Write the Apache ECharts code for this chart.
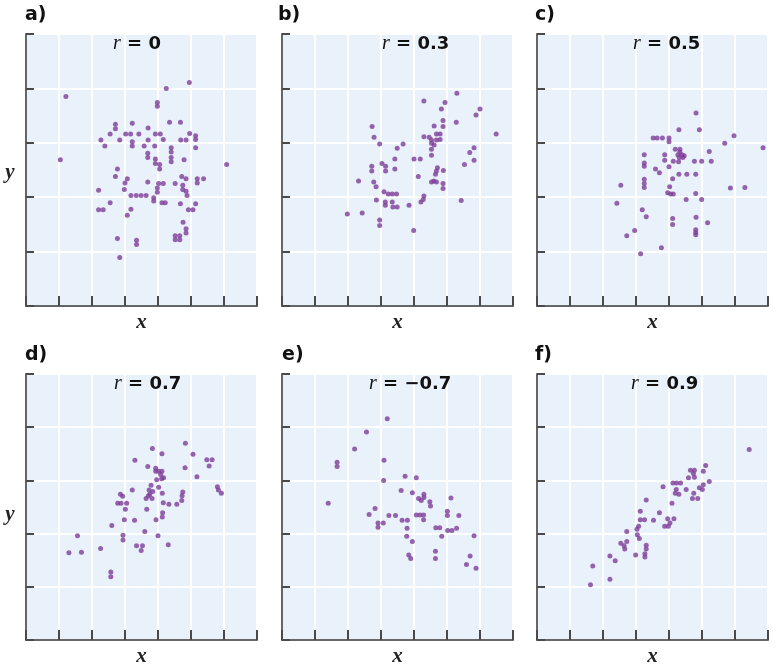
<!DOCTYPE html>
<html><head><meta charset="utf-8">
<script src="https://cdn.jsdelivr.net/npm/echarts@6/dist/echarts.min.js"></script>
<style>html,body{margin:0;padding:0;background:#fff}#c{width:777px;height:668px}</style>
</head><body><div id="c"></div>
<script>
const panelLabels = ['a)', 'b)', 'c)', 'd)', 'e)', 'f)'];
const rValues = ['0', '0.3', '0.5', '0.7', '\u22120.7', '0.9'];
const xAxisName = 'x';
const yAxisName = 'y';

const dataA = [[4.95,4.11],[4.25,4.00],[1.21,3.85],[3.98,3.74],[3.98,3.67],[4.35,3.38],[4.68,3.38],[2.71,3.34],[2.71,3.26],[3.22,3.36],[3.70,3.27],[2.55,3.16],[3.02,3.16],[3.17,3.16],[3.42,3.16],[3.92,3.16],[4.07,3.16],[4.96,3.17],[5.14,3.13],[5.14,3.06],[2.27,3.05],[2.84,3.05],[3.22,3.02],[3.22,2.94],[3.70,3.05],[4.16,3.06],[4.69,3.05],[4.85,3.05],[2.39,2.94],[3.58,2.94],[3.90,2.94],[5.14,2.91],[4.40,2.91],[4.40,2.83],[4.40,2.73],[4.40,2.65],[3.69,2.81],[3.69,2.73],[3.92,2.70],[3.92,2.62],[4.05,2.60],[4.05,2.52],[4.79,2.69],[1.04,2.69],[6.08,2.60],[2.77,2.52],[2.71,2.38],[3.07,2.34],[3.00,2.26],[3.69,2.28],[4.02,2.25],[4.16,2.25],[4.52,2.25],[4.72,2.38],[4.85,2.34],[5.19,2.34],[5.38,2.34],[5.19,2.26],[4.75,2.22],[4.75,2.14],[3.98,2.17],[3.98,2.09],[2.98,2.14],[2.20,2.13],[4.85,2.11],[4.88,2.03],[3.18,2.03],[3.34,2.03],[3.49,2.03],[3.64,2.03],[3.87,1.99],[3.87,1.93],[4.12,1.90],[4.22,1.90],[4.68,1.88],[5.14,1.88],[2.55,1.90],[2.20,1.77],[2.34,1.77],[3.18,1.78],[4.92,1.77],[5.06,1.77],[3.07,1.67],[4.76,1.54],[4.85,1.42],[4.85,1.34],[4.52,1.29],[4.66,1.29],[4.52,1.22],[4.66,1.22],[2.77,1.24],[3.35,1.21],[3.35,1.13],[2.84,0.89]];

const dataB = [[5.30,3.91],[4.30,3.77],[4.94,3.74],[6.00,3.62],[5.88,3.51],[4.83,3.62],[4.88,3.41],[4.88,3.30],[5.28,3.38],[2.73,3.30],[4.61,3.31],[6.49,3.16],[4.68,3.16],[4.79,3.16],[4.30,3.11],[4.46,3.10],[2.79,3.10],[4.53,3.05],[4.68,3.05],[4.79,3.06],[2.96,2.98],[3.67,2.98],[3.49,2.90],[4.53,2.99],[4.61,2.96],[4.53,2.88],[4.53,2.77],[5.82,2.91],[5.69,2.82],[5.82,2.68],[3.42,2.70],[4.00,2.70],[4.19,2.70],[3.03,2.62],[3.14,2.57],[3.14,2.48],[2.72,2.57],[2.72,2.48],[3.42,2.52],[5.53,2.60],[4.71,2.54],[4.68,2.48],[4.65,2.42],[4.60,2.30],[4.68,2.28],[4.89,2.49],[4.13,2.38],[4.53,2.28],[2.32,2.30],[2.78,2.28],[2.85,2.19],[4.88,2.25],[4.88,2.16],[3.09,2.10],[3.22,2.06],[3.34,2.06],[3.47,2.06],[4.30,2.02],[4.28,1.96],[4.21,1.91],[2.86,1.95],[5.43,1.94],[3.13,1.91],[3.13,1.85],[3.34,1.91],[3.36,1.82],[3.49,1.82],[3.85,1.85],[1.98,1.69],[2.43,1.71],[2.96,1.58],[2.96,1.48],[3.99,1.39]];

const dataC = [[4.82,3.55],[4.30,3.24],[4.92,3.24],[5.97,3.13],[3.52,3.09],[3.64,3.09],[3.80,3.09],[4.00,3.09],[4.00,3.02],[5.69,2.99],[6.85,2.91],[4.19,2.88],[4.33,2.88],[4.33,2.83],[5.22,2.84],[3.25,2.78],[3.87,2.78],[4.27,2.78],[4.39,2.78],[4.46,2.76],[4.31,2.73],[4.42,2.73],[3.87,2.68],[4.13,2.66],[4.29,2.65],[4.77,2.66],[4.99,2.66],[5.28,2.66],[3.25,2.63],[3.25,2.57],[4.00,2.56],[3.59,2.52],[3.71,2.45],[4.30,2.42],[4.54,2.42],[4.81,2.42],[4.11,2.34],[3.25,2.33],[3.25,2.25],[3.25,2.18],[2.54,2.22],[4.02,2.19],[5.86,2.17],[6.30,2.18],[3.96,2.08],[4.05,2.06],[4.13,2.06],[4.81,2.07],[4.52,1.96],[4.99,1.96],[2.42,1.89],[3.19,1.77],[3.31,1.64],[4.11,1.61],[4.11,1.50],[4.82,1.63],[5.17,1.53],[4.81,1.40],[4.81,1.35],[4.81,1.31],[2.96,1.39],[2.72,1.29],[3.77,1.07],[3.14,0.96]];

const dataD = [[4.83,3.70],[3.83,3.60],[4.12,3.50],[5.06,3.49],[3.30,3.38],[5.48,3.39],[5.64,3.39],[5.55,3.27],[3.69,3.26],[4.82,3.24],[3.93,3.23],[3.93,3.17],[4.02,3.17],[4.12,3.17],[4.08,3.11],[4.17,3.05],[4.11,3.03],[5.18,3.07],[3.96,3.01],[3.79,2.91],[4.02,2.87],[5.80,2.88],[5.83,2.82],[5.92,2.76],[3.22,2.82],[3.73,2.82],[3.84,2.79],[3.75,2.74],[3.82,2.66],[3.64,2.66],[3.71,2.71],[4.13,2.76],[4.75,2.78],[4.73,2.71],[4.72,2.62],[2.86,2.74],[2.93,2.70],[2.78,2.57],[2.88,2.57],[3.05,2.57],[3.01,2.46],[4.16,2.58],[4.33,2.55],[4.57,2.55],[3.66,2.46],[4.14,2.39],[4.13,2.31],[2.98,2.26],[3.29,2.25],[3.94,2.26],[2.60,2.15],[3.60,2.04],[1.56,1.96],[2.94,1.97],[2.94,1.88],[4.00,1.96],[4.31,1.79],[3.35,1.77],[3.53,1.77],[3.49,1.68],[2.26,1.72],[1.30,1.64],[1.68,1.65],[2.57,1.28],[2.57,1.19]];

const dataE = [[3.19,4.16],[2.56,3.91],[2.20,3.59],[3.09,3.38],[1.67,3.34],[1.67,3.26],[3.73,3.08],[4.07,3.05],[3.08,3.00],[3.61,2.81],[3.95,2.77],[4.30,2.74],[4.30,2.68],[4.14,2.66],[4.22,2.62],[4.48,2.60],[4.50,2.52],[5.12,2.67],[1.40,2.57],[2.82,2.47],[5.01,2.42],[5.01,2.34],[2.64,2.36],[3.24,2.34],[3.44,2.34],[4.07,2.35],[4.18,2.35],[4.29,2.35],[4.29,2.26],[5.36,2.34],[3.64,2.25],[3.80,2.25],[2.91,2.20],[2.91,2.12],[3.07,2.20],[3.79,2.10],[4.66,2.11],[4.78,2.11],[5.02,2.06],[5.15,2.06],[5.29,2.10],[4.84,1.95],[5.82,1.96],[3.78,1.95],[3.95,1.85],[4.65,1.67],[4.65,1.53],[3.84,1.60],[3.90,1.53],[5.70,1.58],[5.59,1.42],[5.88,1.35]];

const dataF = [[6.43,3.58],[5.11,3.28],[4.65,3.19],[4.77,3.19],[4.74,3.13],[4.77,3.06],[4.59,3.05],[5.04,3.17],[4.12,2.95],[4.23,2.95],[4.35,2.95],[5.22,2.98],[5.04,2.92],[4.92,2.86],[5.01,2.83],[3.82,2.88],[4.22,2.83],[4.19,2.76],[4.30,2.74],[4.52,2.83],[4.75,2.76],[4.71,2.66],[4.87,2.66],[3.31,2.63],[4.09,2.57],[3.13,2.42],[3.71,2.39],[3.13,2.26],[3.26,2.26],[3.53,2.25],[3.96,2.28],[4.15,2.28],[3.87,2.14],[3.98,2.14],[4.03,2.20],[3.08,2.14],[3.03,2.08],[2.72,2.04],[3.04,1.98],[3.10,1.91],[2.54,1.82],[2.72,1.85],[2.64,1.77],[2.66,1.71],[3.31,1.78],[3.31,1.71],[3.27,1.62],[3.27,1.56],[2.99,1.60],[2.21,1.58],[2.37,1.49],[1.69,1.39],[2.21,1.14],[1.62,1.04]];

const panels = [dataA, dataB, dataC, dataD, dataE, dataF];

const gridLefts = [26, 282, 537, 26, 282, 537];
const gridTops = [34, 34, 34, 374, 374, 374];
const labelLefts = [25, 278, 535, 25, 282, 535];
const labelTops = [15, 15, 15, 355, 355, 355];
const rLefts = [113, 382, 633, 114, 369, 631];
const rTops = [44, 44, 44, 384, 384, 384];

const grids = [], xAxes = [], yAxes = [], series = [], titles = [];
const axisLineStyle = {color: '#666', width: 2};
const tickStyle = {color: '#4a4a4a', width: 2};
const nameStyle = {fontFamily: 'Liberation Serif', fontStyle: 'italic', fontWeight: 'bold', fontSize: 21, color: '#222'};

panels.forEach(function (d, i) {
  grids.push({left: gridLefts[i], top: gridTops[i], width: 231, height: 272, show: true, backgroundColor: '#e9f1fb', borderWidth: 0});
  xAxes.push({
    gridIndex: i, type: 'value', min: 0, max: 7, interval: 1,
    axisLine: {show: true, onZero: false, lineStyle: axisLineStyle},
    axisTick: {show: true, inside: true, length: 10, lineStyle: tickStyle},
    axisLabel: {show: false},
    splitLine: {show: true, lineStyle: {color: '#ffffff', width: 2}},
    name: xAxisName, nameLocation: 'middle', nameGap: 6, nameTextStyle: nameStyle
  });
  yAxes.push({
    gridIndex: i, type: 'value', min: 0, max: 5, interval: 1,
    axisLine: {show: true, onZero: false, lineStyle: axisLineStyle},
    axisTick: {show: true, inside: true, length: 8, lineStyle: tickStyle},
    axisLabel: {show: false},
    splitLine: {show: true, lineStyle: {color: '#ffffff', width: 2}}
  });
  series.push({
    type: 'scatter', xAxisIndex: i, yAxisIndex: i, data: d,
    symbol: 'circle', symbolSize: 5,
    itemStyle: {color: '#7e3f99'}, silent: true
  });
  titles.push({
    text: panelLabels[i], left: labelLefts[i], top: labelTops[i], padding: 0,
    textAlign: 'left', textVerticalAlign: 'middle',
    textStyle: {fontFamily: 'DejaVu Sans', fontWeight: 'bold', fontSize: 19, color: '#111'}
  });
  titles.push({
    text: '{r|r} = ' + rValues[i], left: rLefts[i], top: rTops[i], padding: 0,
    textAlign: 'left', textVerticalAlign: 'middle',
    textStyle: {fontFamily: 'DejaVu Sans', fontWeight: 'bold', fontSize: 18, color: '#111',
      rich: {r: {fontFamily: 'Liberation Serif', fontStyle: 'italic', fontWeight: 'normal', fontSize: 20, color: '#111'}}}
  });
});
[173, 515].forEach(function (t) {
  titles.push({
    text: yAxisName, left: 10, top: t, padding: 0, textAlign: 'center', textVerticalAlign: 'middle',
    textStyle: nameStyle
  });
});

const chart = echarts.init(document.getElementById('c'), null, {renderer: 'canvas'});
chart.setOption({
  animation: false,
  backgroundColor: '#ffffff',
  title: titles,
  grid: grids,
  xAxis: xAxes,
  yAxis: yAxes,
  series: series
});
</script>
</body></html>
